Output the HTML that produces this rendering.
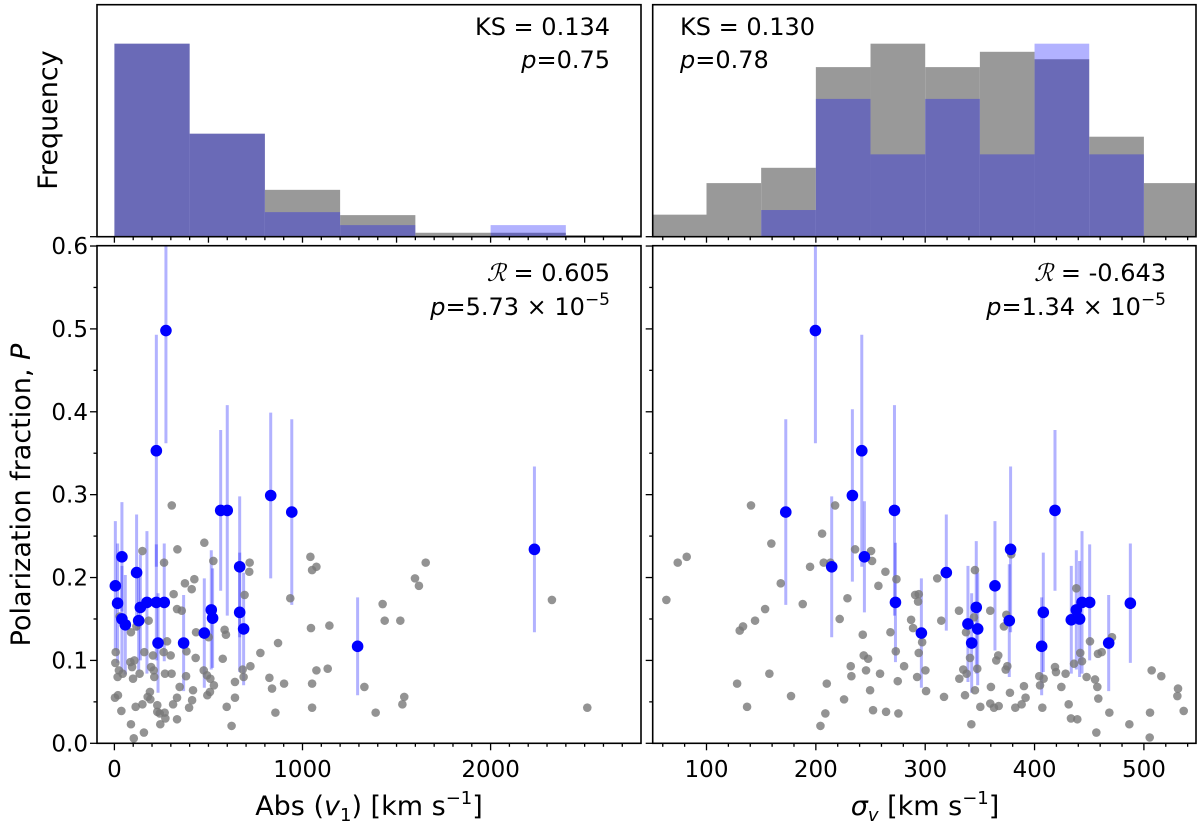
<!DOCTYPE html>
<html><head><meta charset="utf-8"><style>
html,body{margin:0;padding:0;background:#fff;}
svg{display:block;font-family:"DejaVu Sans","Liberation Sans",sans-serif;}
</style></head><body>
<svg id="chart" width="1200" height="827" viewBox="0 0 1200 827" xmlns="http://www.w3.org/2000/svg">
<g id="layer"></g>
<text transform="translate(30,495) rotate(-90)" text-anchor="middle" font-size="27">Polarization fraction, <tspan font-style="italic">P</tspan></text>
<text transform="translate(57,120) rotate(-90)" text-anchor="middle" font-size="27">Frequency</text>
<text x="369" y="815" text-anchor="middle" font-size="27">Abs (<tspan font-style="italic">v</tspan><tspan font-size="18" dy="6">1</tspan><tspan dy="-6">) [km s</tspan><tspan font-size="18" dy="-11">−1</tspan><tspan dy="11">]</tspan></text>
<text x="925" y="815" text-anchor="middle" font-size="27"><tspan font-style="italic">σ</tspan><tspan font-size="18" dy="6" font-style="italic">v</tspan><tspan dy="-6"> [km s</tspan><tspan font-size="18" dy="-11">−1</tspan><tspan dy="11">]</tspan></text>
<text x="610" y="35" text-anchor="end" font-size="24">KS = 0.134</text>
<text x="610" y="68" text-anchor="end" font-size="24"><tspan font-style="italic">p</tspan>=0.75</text>
<text x="680" y="35" font-size="24">KS = 0.130</text>
<text x="680" y="68" font-size="24"><tspan font-style="italic">p</tspan>=0.78</text>
<text x="610" y="281" text-anchor="end" font-size="24"><tspan font-family="'Liberation Serif',serif" font-style="italic">ℛ</tspan> = 0.605</text>
<text x="610" y="315" text-anchor="end" font-size="24"><tspan font-style="italic">p</tspan>=5.73 × 10<tspan font-size="17" dy="-10">−5</tspan></text>
<text x="1166" y="281" text-anchor="end" font-size="24"><tspan font-family="'Liberation Serif',serif" font-style="italic">ℛ</tspan> = -0.643</text>
<text x="1166" y="315" text-anchor="end" font-size="24"><tspan font-style="italic">p</tspan>=1.34 × 10<tspan font-size="17" dy="-10">−5</tspan></text>
</svg>
<script>
// ---- data ----
const histEdgesL = [0,400,800,1200,1600,2000,2400,2800];
const histGrayL = [0.832,0.444,0.202,0.093,0.017,0.017,0.007];
const histBlueL = [0.832,0.444,0.106,0.05,0,0.05,0];
const histEdgesR = [50,100,150,200,250,300,350,400,450,500,550];
const histGrayR = [0.095,0.231,0.297,0.731,0.832,0.731,0.797,0.765,0.431,0.231];
const histBlueR = [0,0,0.115,0.594,0.355,0.594,0.355,0.832,0.355,0];

const blueV1 = [5,17,40,40,58,118,138,129,173,223,232,265,223,274,368,478,515,522,565,600,666,666,687,831,943,1293,2233];
const blueP = [0.190,0.169,0.225,0.150,0.143,0.206,0.164,0.148,0.170,0.170,0.121,0.170,0.353,0.498,0.121,0.133,0.161,0.151,0.281,0.281,0.213,0.158,0.138,0.299,0.279,0.117,0.234];
const blueErr = [0.078,0.072,0.066,0.064,0.06,0.07,0.064,0.06,0.086,0.07,0.06,0.071,0.14,0.136,0.058,0.066,0.072,0.06,0.097,0.127,0.085,0.072,0.068,0.1,0.112,0.059,0.1];

const graySigLeftV1 = [305,335,149,478,526,264,719,717,1042,1074,1051,375,425,411,315,692,935,333,358,28,182,117,88,434,501,586,593,1045,1143,870,280,262,299,159,205,7,5,383,432,576,776,24,17,44,85,106,94,99,134,195,209,212,269,304,475,492,510,529,641,682,687,723,824,838,902,1051,1074,1134,381,347,333,312,418,413,397,189,177,191,149,113,19,3,37,228,228,241,267,271,244,333,88,157,103,494,508,597,641,623,856,1051,1329,1389,1655,1598,1619,1426,1437,1520,2326,1541,1531,2514];
const grayP_L = [0.287,0.234,0.232,0.242,0.220,0.218,0.218,0.207,0.225,0.213,0.209,0.193,0.198,0.186,0.180,0.179,0.175,0.162,0.160,0.153,0.148,0.141,0.134,0.134,0.128,0.137,0.131,0.139,0.142,0.121,0.123,0.110,0.106,0.110,0.106,0.110,0.097,0.111,0.103,0.102,0.109,0.088,0.080,0.084,0.098,0.100,0.092,0.078,0.084,0.092,0.088,0.080,0.084,0.084,0.088,0.082,0.078,0.070,0.074,0.089,0.080,0.093,0.079,0.066,0.072,0.072,0.088,0.090,0.081,0.068,0.055,0.047,0.064,0.052,0.043,0.062,0.056,0.053,0.047,0.044,0.058,0.055,0.039,0.046,0.038,0.036,0.037,0.030,0.023,0.029,0.023,0.013,0.006,0.058,0.062,0.044,0.055,0.021,0.037,0.043,0.068,0.037,0.218,0.199,0.190,0.168,0.148,0.148,0.173,0.056,0.047,0.043];

const blueSig = [172.5,242,233.4,271.9,244.4,214.5,272.8,296.5,199.6,319.3,339.1,346.7,342.5,348,363.8,378.1,376.9,408,406.5,418.7,433.6,438.2,441.2,443.4,450.4,467.8,487.6];
const bluePR = [0.279,0.353,0.299,0.281,0.225,0.213,0.170,0.133,0.498,0.206,0.144,0.164,0.121,0.138,0.190,0.234,0.148,0.158,0.117,0.281,0.149,0.161,0.150,0.170,0.170,0.121,0.169];
const blueErrR = [0.112,0.14,0.104,0.127,0.067,0.085,0.072,0.066,0.136,0.07,0.07,0.08,0.06,0.068,0.078,0.1,0.068,0.072,0.059,0.097,0.065,0.072,0.07,0.086,0.07,0.058,0.072];

const graySig = [63.3,73.7,81.9,140.7,159.3,167.9,153.6,144.4,133.4,130.4,128,137.1,157.5,177.3,188,194.7,205.7,207.2,213.3,217.6,228.9,221.8,235.9,250.5,251.4,263.6,257.2,273.7,290.8,294.1,293.5,287.1,288.9,268.2,242.9,297.2,273.1,294.1,243.8,247.8,231.9,245.9,232.5,258.7,280.7,300.2,292.6,274.9,249.6,300.8,210,225.8,208.7,204.2,252.3,264.2,275.5,311,330.9,314.7,345.5,344.6,337.3,359.5,374.2,372,378.7,366.8,365,375.1,373.6,341,334.8,337.9,331.2,347.6,345.5,336.4,317.2,360.1,350.4,359.5,362.9,367.2,342.2,377.5,382.4,388.2,391.8,390.3,404.3,408.3,405,407.1,418.7,419.6,428.4,424.5,431.2,433.3,439.1,438.2,436.1,441.8,443.4,447.6,455.3,457.4,458.3,450.7,458,461.4,470.8,468.4,456.5,486.7,505.6,505.3,507.1,515.9,531.2,530.6,536.4];
const grayP_R = [0.173,0.218,0.225,0.287,0.241,0.193,0.162,0.148,0.141,0.136,0.072,0.044,0.084,0.057,0.168,0.213,0.253,0.218,0.218,0.287,0.175,0.150,0.234,0.232,0.220,0.207,0.190,0.198,0.179,0.180,0.171,0.149,0.139,0.134,0.131,0.122,0.111,0.109,0.106,0.102,0.093,0.088,0.081,0.084,0.093,0.088,0.080,0.075,0.064,0.063,0.072,0.053,0.036,0.021,0.040,0.038,0.036,0.199,0.160,0.148,0.209,0.152,0.134,0.160,0.155,0.141,0.228,0.106,0.100,0.093,0.089,0.103,0.089,0.084,0.078,0.090,0.064,0.058,0.056,0.068,0.044,0.048,0.043,0.045,0.023,0.061,0.043,0.047,0.055,0.069,0.081,0.078,0.070,0.043,0.092,0.086,0.084,0.068,0.047,0.030,0.029,0.187,0.096,0.109,0.099,0.080,0.077,0.068,0.054,0.123,0.108,0.110,0.128,0.037,0.013,0.023,0.037,0.007,0.088,0.081,0.066,0.057,0.039];

const yTicks = [0.0,0.1,0.2,0.3,0.4,0.5,0.6];
const yTickLabels = ["0.0","0.1","0.2","0.3","0.4","0.5","0.6"];
const xTicksL = [0,1000,2000];
const xTickLabelsL = ["0","1000","2000"];
const xTicksR = [100,200,300,400,500];
const xTickLabelsR = ["100","200","300","400","500"];

// ---- axes ----
const L = {x0:97, x1:641}, R = {x0:652.7, x1:1196};
const H = {y0:4.7, y1:236.7}, S = {y0:245.7, y1:743.3};
const xL = v => 114.4 + v*0.1881;
const xR = v => 706.5 + (v-100)*1.0935;
const yS = v => 743.3 - v*828.8;
const yH = v => 236.7 - v*232;

const NS = "http://www.w3.org/2000/svg";
const layer = document.getElementById('layer');
function mk(tag, attrs, parent){
  const e = document.createElementNS(NS, tag);
  for (const k in attrs) e.setAttribute(k, attrs[k]);
  (parent||layer).appendChild(e);
  return e;
}
function clipRect(id,x0,y0,x1,y1){
  let d = document.getElementById('defs');
  if(!d){ d = mk('defs',{id:'defs'}); }
  const c = mk('clipPath',{id:id},d);
  mk('rect',{x:x0,y:y0,width:x1-x0,height:y1-y0},c);
}
clipRect('cHL',L.x0,H.y0,L.x1,H.y1);
clipRect('cHR',R.x0,H.y0,R.x1,H.y1);
clipRect('cSL',L.x0,S.y0,L.x1,S.y1);
clipRect('cSR',R.x0,S.y0,R.x1,S.y1);

function hist(edges, grayV, blueV, xf, clip, side){
  const g = mk('g',{'clip-path':'url(#'+clip+')'});
  
  
  for(let i=0;i<grayV.length;i++){
    if(grayV[i]<=0) continue;
    const r = mk('rect',{x:xf(edges[i]),y:yH(grayV[i]),width:xf(edges[i+1])-xf(edges[i]),height:yH(0)-yH(grayV[i]),fill:'#999999'},g);
    
    
  }
  for(let i=0;i<blueV.length;i++){
    if(blueV[i]<=0) continue;
    const r = mk('rect',{x:xf(edges[i]),y:yH(blueV[i]),width:xf(edges[i+1])-xf(edges[i]),height:yH(0)-yH(blueV[i]),fill:'rgba(0,0,255,0.3)'},g);
    
    
  }
}
hist(histEdgesL,histGrayL,histBlueL,xL,'cHL','left');
hist(histEdgesR,histGrayR,histBlueR,xR,'cHR','right');

function scatter(gx, gy, bx, by, be, xf, clip, side){
  const g = mk('g',{'clip-path':'url(#'+clip+')'});
  
  
  for(let i=0;i<bx.length;i++){
    const l = mk('line',{x1:xf(bx[i]),x2:xf(bx[i]),y1:yS(by[i]-be[i]),y2:yS(by[i]+be[i]),stroke:'rgba(0,0,255,0.3)','stroke-width':3},g);
    
    
  }
  for(let i=0;i<gx.length;i++){
    const c = mk('circle',{cx:xf(gx[i]),cy:yS(gy[i]),r:4.3,fill:'rgba(120,120,120,0.8)'},g);
    
    
  }
  for(let i=0;i<bx.length;i++){
    const c = mk('circle',{cx:xf(bx[i]),cy:yS(by[i]),r:5.8,fill:'#0000ff'},g);
    
    
  }
}
scatter(graySigLeftV1,grayP_L,blueV1,blueP,blueErr,xL,'cSL','left');
scatter(graySig,grayP_R,blueSig,bluePR,blueErrR,xR,'cSR','right');

[[L.x0,H.y0,L.x1,H.y1],[R.x0,H.y0,R.x1,H.y1],[L.x0,S.y0,L.x1,S.y1],[R.x0,S.y0,R.x1,S.y1]].forEach((b,i)=>{
  const r = mk('rect',{x:b[0],y:b[1],width:b[2]-b[0],height:b[3]-b[1],fill:'none',stroke:'#000','stroke-width':1.6});
  
  
});

function tick(x1,y1,x2,y2){ mk('line',{x1:x1,y1:y1,x2:x2,y2:y2,stroke:'#000','stroke-width':1.3}); }
for(let v=0; v<=2800; v+=100){
  const x = xL(v); if(x>L.x1) continue;
  const maj = v%500===0;
  tick(x,H.y1,x,H.y1+(maj?6:3.5));
  tick(x,S.y1,x,S.y1+(v%1000===0?7:3.5));
}
for(let v=60; v<=540; v+=20){
  const x = xR(v); if(x<R.x0||x>R.x1) continue;
  const maj = v%100===0;
  tick(x,H.y1,x,H.y1+(maj?6:3.5));
  tick(x,S.y1,x,S.y1+(maj?7:3.5));
}
xTicksL.forEach((v,i)=>{
  const t = mk('text',{x:xL(v),y:777,'text-anchor':'middle','font-size':23});
  t.textContent = xTickLabelsL[i];
  
  
});
xTicksR.forEach((v,i)=>{
  const t = mk('text',{x:xR(v),y:777,'text-anchor':'middle','font-size':23});
  t.textContent = xTickLabelsR[i];
  
  
});
for(let k=0;k<=12;k++){
  const v=k*0.05, y=yS(v), maj=k%2===0;
  tick(L.x0,y,L.x0-(maj?7:3.5),y);
  tick(R.x0,y,R.x0-(maj?7:3.5),y);
}
tick(L.x0,H.y1,L.x0-7,H.y1); tick(R.x0,H.y1,R.x0-7,H.y1);
yTicks.forEach((v,i)=>{
  const t = mk('text',{x:88,y:yS(v)+8,'text-anchor':'end','font-size':23});
  t.textContent = yTickLabels[i];
  
  
});
</script>
</body></html>
